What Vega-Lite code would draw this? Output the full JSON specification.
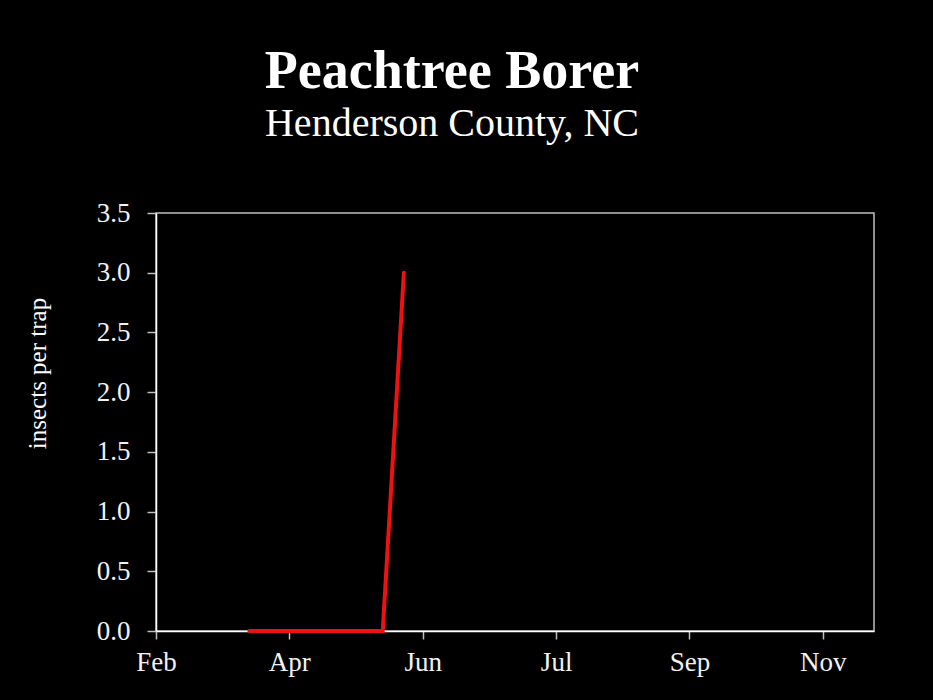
{
  "$schema": "https://vega.github.io/schema/vega-lite/v6.json",
  "width": 718,
  "height": 418,
  "autosize": "none",
  "padding": {"left": 156, "top": 213, "right": 59, "bottom": 69},
  "background": "#000000",
  "title": {
    "text": "Peachtree Borer",
    "subtitle": "Henderson County, NC",
    "anchor": "middle",
    "frame": "group",
    "dx": -63,
    "offset": 55,
    "font": "Liberation Serif",
    "fontSize": 54,
    "fontWeight": "bold",
    "color": "#ffffff",
    "subtitleFont": "Liberation Serif",
    "subtitleFontSize": 40,
    "subtitleColor": "#ffffff",
    "subtitlePadding": 5
  },
  "config": {
    "view": {"stroke": "#bfbfbf", "strokeWidth": 1.5},
    "font": "Liberation Serif"
  },
  "data": {
    "values": [
      {"date": "2010-03-15T00:00:00", "count": 0},
      {"date": "2010-03-23T00:00:00", "count": 0},
      {"date": "2010-03-30T00:00:00", "count": 0},
      {"date": "2010-04-06T00:00:00", "count": 0},
      {"date": "2010-04-13T00:00:00", "count": 0},
      {"date": "2010-04-20T00:00:00", "count": 0},
      {"date": "2010-04-27T00:00:00", "count": 0},
      {"date": "2010-05-04T00:00:00", "count": 0},
      {"date": "2010-05-14T00:00:00", "count": 0},
      {"date": "2010-05-23T12:00:00", "count": 3}
    ]
  },
  "mark": {"type": "line", "color": "#ee1111", "strokeWidth": 4, "strokeCap": "round"},
  "encoding": {
    "x": {
      "field": "date",
      "type": "temporal",
      "scale": {"domain": [{"year": 2010, "month": 2, "date": 1}, {"year": 2010, "month": 12, "date": 21}]},
      "axis": {
        "title": null,
        "values": [
          {"year": 2010, "month": 2, "date": 1},
          {"year": 2010, "month": 4, "date": 2},
          {"year": 2010, "month": 6, "date": 1},
          {"year": 2010, "month": 7, "date": 31},
          {"year": 2010, "month": 9, "date": 29},
          {"year": 2010, "month": 11, "date": 28}
        ],
        "format": "%b",
        "grid": false,
        "labelFont": "Liberation Serif",
        "labelFontSize": 27,
        "labelColor": "#f2f2f2",
        "labelPadding": 10,
        "tickSize": 8,
        "tickColor": "#bfbfbf",
        "tickWidth": 1.5,
        "domainColor": "#ffffff",
        "domainWidth": 1.5,
        "labelFlush": false,
        "labelOverlap": false
      }
    },
    "y": {
      "field": "count",
      "type": "quantitative",
      "scale": {"domain": [0, 3.5], "nice": false},
      "axis": {
        "title": "insects per trap",
        "values": [0, 0.5, 1, 1.5, 2, 2.5, 3, 3.5],
        "format": ".1f",
        "grid": false,
        "labelFont": "Liberation Serif",
        "labelFontSize": 27,
        "labelColor": "#f2f2f2",
        "labelPadding": 17,
        "tickSize": 9,
        "tickColor": "#bfbfbf",
        "tickWidth": 1.5,
        "domainColor": "#ffffff",
        "domainWidth": 1.5,
        "titleFont": "Liberation Serif",
        "titleFontSize": 25,
        "titleFontWeight": "normal",
        "titleColor": "#ffffff",
        "titleAngle": -90,
        "titleAlign": "center",
        "titleBaseline": "middle",
        "titleX": -119,
        "titleY": 160,
        "labelFlush": false,
        "labelOverlap": false
      }
    }
  }
}
